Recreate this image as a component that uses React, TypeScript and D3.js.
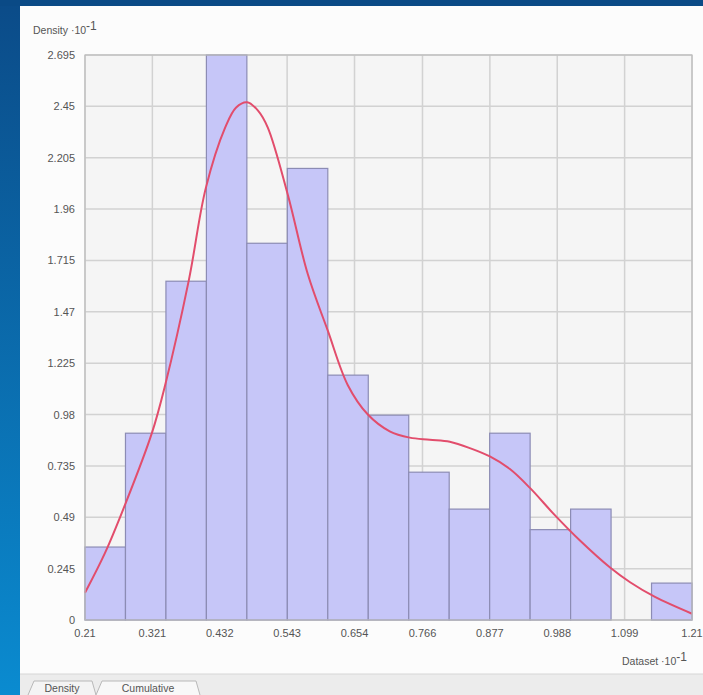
import React from "react";
import * as d3 from "d3";

const binEdges = [0.21, 1.21];
const binCount = 15;
const binValues = [0.348, 0.891, 1.616, 2.695, 1.797, 2.154, 1.168, 0.977, 0.705, 0.529, 0.891, 0.431, 0.529, 0, 0.176];
const curveX = [0.21, 0.243, 0.276, 0.32, 0.342, 0.381, 0.409, 0.441, 0.459, 0.477, 0.495, 0.511, 0.544, 0.577, 0.61, 0.643, 0.676, 0.712, 0.745, 0.778, 0.811, 0.844, 0.877, 0.91, 0.943, 0.984, 1.025, 1.075, 1.108, 1.149, 1.21];
const curveY = [0.13, 0.32, 0.55, 0.89, 1.12, 1.62, 2.06, 2.35, 2.445, 2.47, 2.43, 2.35, 2.03, 1.65, 1.38, 1.12, 0.98, 0.9, 0.87, 0.86, 0.85, 0.82, 0.78, 0.72, 0.63, 0.5, 0.38, 0.25, 0.18, 0.11, 0.03];
const xTickLabels = ["0.21", "0.321", "0.432", "0.543", "0.654", "0.766", "0.877", "0.988", "1.099", "1.21"];
const yTickLabels = ["0", "0.245", "0.49", "0.735", "0.98", "1.225", "1.47", "1.715", "1.96", "2.205", "2.45", "2.695"];

export default function App() {
  const W = 703, H = 695;
  const L = 85, R = 692, T = 55, B = 620;
  const x = d3.scaleLinear().domain(binEdges).range([L, R]);
  const y = d3.scaleLinear().domain([0, 2.695]).range([B, T]);
  const bw = (binEdges[1] - binEdges[0]) / binCount;
  const line = d3.line<number>().x((_, i) => x(curveX[i])).y((d) => y(d)).curve(d3.curveCatmullRom.alpha(0.5));
  const font = "'Liberation Sans', Arial, sans-serif";
  return (
    <svg width={W} height={H} style={{ position: "absolute", left: 0, top: 0 }} fontFamily={font}>
      <defs>
        <linearGradient id="bg" x1="0" y1="0" x2="0" y2="1">
          <stop offset="0" stopColor="#0b4b88" />
          <stop offset="1" stopColor="#0a8bd0" />
        </linearGradient>
      </defs>
      <rect x={0} y={0} width={W} height={H} fill="url(#bg)" />
      <rect x={0} y={0} width={W} height={6} fill="#0a4a86" />
      <rect x={20} y={6} width={W - 20} height={H - 6} fill="#fcfcfc" />
      <rect x={20} y={674} width={W - 20} height={H - 674} fill="#ececec" />
      <line x1={20} x2={W} y1={674} y2={674} stroke="#d6d6d6" />
      <path d="M28,695 L34,681 L92,681 L96,695" fill="#f4f4f4" stroke="#b8b8b8" />
      <path d="M96,695 L102,681 L196,681 L200,695" fill="#f8f8f8" stroke="#b8b8b8" />
      <text x={62} y={692} fontSize={10.5} textAnchor="middle" fill="#555">Density</text>
      <text x={148} y={692} fontSize={10.5} textAnchor="middle" fill="#555">Cumulative</text>
      <rect x={L} y={T} width={R - L} height={B - T} fill="#f5f5f5" />
      {yTickLabels.map((t, i) => (
        <line key={"hy" + i} x1={L} x2={R} y1={y(+t)} y2={y(+t)} stroke="#d2d2d2" strokeWidth={1.5} />
      ))}
      {xTickLabels.map((t, i) => (
        <line key={"vx" + i} x1={x(+t)} x2={x(+t)} y1={T} y2={B} stroke="#d2d2d2" strokeWidth={1.5} />
      ))}
      {binValues.map((v, i) =>
        v > 0 ? (
          <rect
            key={"b" + i}
            x={x(binEdges[0] + i * bw)}
            y={y(v)}
            width={x(binEdges[0] + (i + 1) * bw) - x(binEdges[0] + i * bw)}
            height={B - y(v)}
            fill="#c6c6f8"
            stroke="#8c8cb4"
            strokeWidth={1.2}
          />
        ) : null
      )}
      <path d={line(curveY) || ""} fill="none" stroke="#e24d6c" strokeWidth={2} />
      <rect x={L} y={T} width={R - L} height={B - T} fill="none" stroke="#bdbdbd" strokeWidth={1.2} />
      {yTickLabels.map((t, i) => (
        <text key={"yl" + i} x={75} y={y(+t) + 4} fontSize={11} textAnchor="end" fill="#555">{t}</text>
      ))}
      {xTickLabels.map((t, i) => (
        <text key={"xl" + i} x={x(+t)} y={637} fontSize={11} textAnchor="middle" fill="#555">{t}</text>
      ))}
      <text x={33} y={34} fontSize={10.5} fill="#555">
        Density ·10<tspan dy={-4} fontSize={12}>-1</tspan>
      </text>
      <text x={622} y={665} fontSize={10.5} fill="#555">
        Dataset ·10<tspan dy={-4} fontSize={12}>-1</tspan>
      </text>
    </svg>
  );
}
